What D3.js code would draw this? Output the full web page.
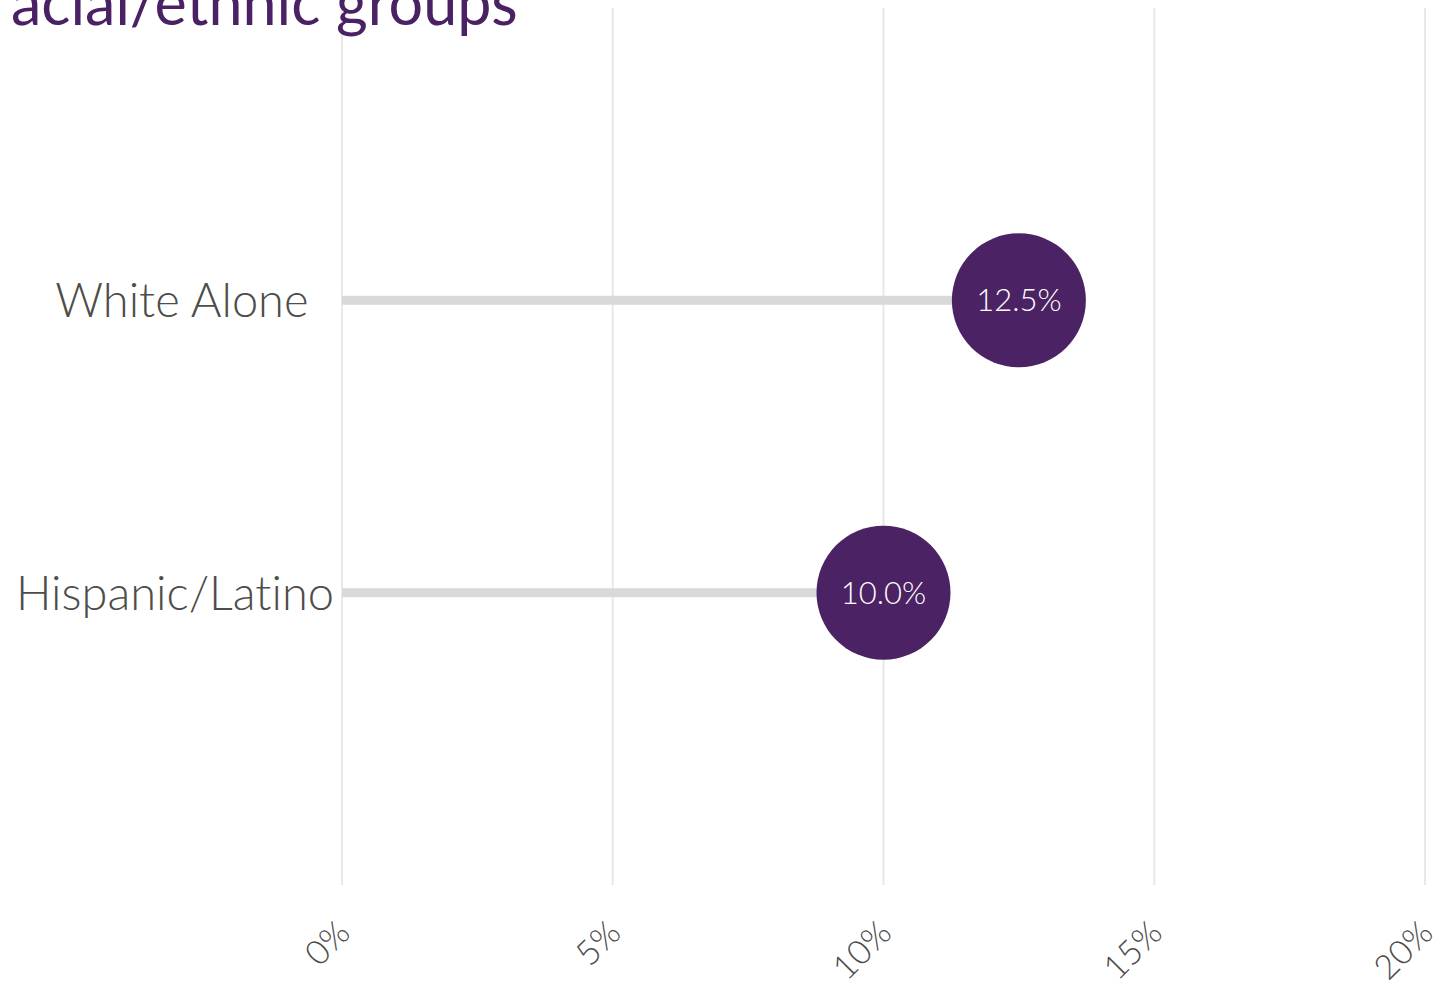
<!DOCTYPE html>
<html>
<head>
<meta charset="utf-8">
<script src="https://cdn.jsdelivr.net/npm/d3@7"></script>
<style>
  html, body { margin: 0; padding: 0; background: #fff; }
  svg { display: block; font-family: Lato, "Open Sans", sans-serif; font-weight: 300; font-variant-ligatures: none; }
</style>
</head>
<body>
<svg id="chart" width="1451" height="983"></svg>
<script>
const categories = ["White Alone  ", "Hispanic/Latino"];
const values = [12.5, 10.0];
const valueLabels = ["12.5%", "10.0%"];
const tickValues = [0, 5, 10, 15, 20];
const tickLabels = ["0%", "5%", "10%", "15%", "20%"];
const titleText = "acial/ethnic groups";

const svg = d3.select("#chart");
const margin = { left: 342, right: 26, top: 8, bottom: 98 };
const W = 1451, H = 983;

const x = d3.scaleLinear().domain([0, 20]).range([margin.left, W - margin.right]);
const y = d3.scalePoint().domain(categories).range([margin.top, H - margin.bottom]).padding(1);

// gridlines
svg.append("g").selectAll("line").data(tickValues).join("line")
  .attr("x1", d => x(d)).attr("x2", d => x(d))
  .attr("y1", margin.top).attr("y2", H - margin.bottom)
  .attr("stroke", "#e8e8e8").attr("stroke-width", 2);

// title
svg.append("text").attr("x", 11).attr("y", 25)
  .attr("font-size", 61).attr("font-weight", 400).attr("fill", "#4a2163")
  .text(titleText);

const data = categories.map((c, i) => ({ c, v: values[i], l: valueLabels[i] }));

// stems
svg.append("g").selectAll("line").data(data).join("line")
  .attr("x1", x(0)).attr("x2", d => x(d.v))
  .attr("y1", d => y(d.c)).attr("y2", d => y(d.c))
  .attr("stroke", "#d9d9d9").attr("stroke-width", 9);

// circles
svg.append("g").selectAll("circle").data(data).join("circle")
  .attr("cx", d => x(d.v)).attr("cy", d => y(d.c)).attr("r", 67)
  .attr("fill", "#4b2263");

// value labels
svg.append("g").selectAll("text").data(data).join("text")
  .attr("x", d => x(d.v)).attr("y", d => y(d.c))
  .attr("dy", "0.36em").attr("text-anchor", "middle")
  .attr("font-size", 31).attr("fill", "#ffffff")
  .text(d => d.l);

// category labels
svg.append("g").selectAll("text").data(data).join("text")
  .attr("x", margin.left - 8).attr("y", d => y(d.c))
  .attr("dy", "0.36em").attr("text-anchor", "end")
  .attr("font-size", 47).attr("fill", "#4d4d4a")
  .style("white-space", "pre")
  .text(d => d.c);

// x tick labels
svg.append("g").selectAll("text").data(tickValues).join("text")
  .attr("transform", d => `translate(${x(d) + 10},${935}) rotate(-45)`)
  .attr("text-anchor", "end")
  .attr("font-size", 34).attr("fill", "#4d4d4d")
  .text((d, i) => tickLabels[i]);
</script>
</body>
</html>
